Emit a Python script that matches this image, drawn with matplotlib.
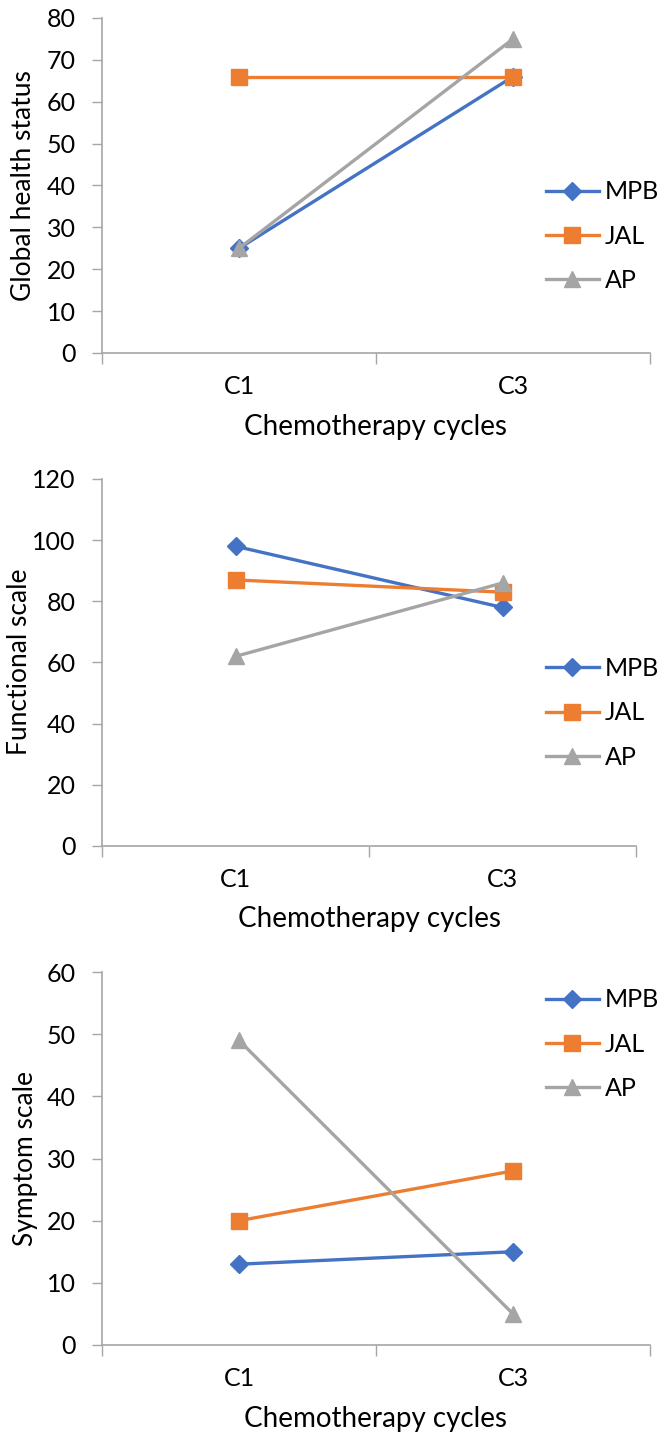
import matplotlib
matplotlib.use("Agg")
import matplotlib.pyplot as plt

plt.rcParams['font.family'] = ['Lato', 'DejaVu Sans']

# data
cycles = ['C1', 'C3']
series = ['MPB', 'JAL', 'AP']

global_mpb = [25, 66]
global_jal = [66, 66]
global_ap = [25, 75]

functional_mpb = [98, 78]
functional_jal = [87, 83]
functional_ap = [62, 86]

symptom_mpb = [13, 15]
symptom_jal = [20, 28]
symptom_ap = [49, 5]

ylabels = ['Global health status', 'Functional scale', 'Symptom scale']
ylims = [(0, 80), (0, 120), (0, 60)]
ysteps = [10, 20, 10]

colors = ['#4472C4', '#ED7D31', '#A5A5A5']
markers = ['D', 's', '^']
msizes = [9.5, 11, 11]
axis_col = '#A6A6A6'

W, H = 657, 1437
fig = plt.figure(figsize=(W / 100, H / 100), dpi=100)

# panel boxes in pixels: left, right, top, bottom
boxes = [(102, 650, 18, 353), (102, 636, 479, 846), (102, 650, 972, 1345)]
legend_y = [236, 713, 1044]
ylabel_pos = [(24, 186), (20, 662), (26, 1158)]

data = [
    [global_mpb, global_jal, global_ap],
    [functional_mpb, functional_jal, functional_ap],
    [symptom_mpb, symptom_jal, symptom_ap],
]

x = list(range(len(cycles)))

for i in range(3):
    l, r, t, b = boxes[i]
    ax = fig.add_axes([l / W, 1 - b / H, (r - l) / W, (b - t) / H])
    for vals, name, c, m, ms in zip(data[i], series, colors, markers, msizes):
        ax.plot(x, vals, color=c, lw=2.4, marker=m, ms=ms, mec=c, mfc=c,
                label=name, clip_on=False)

    ax.set_xlim(-0.5, 1.5)
    ax.set_ylim(*ylims[i])
    ax.set_yticks(range(ylims[i][0], ylims[i][1] + 1, ysteps[i]))

    ax.set_xticks([-0.5, 0.5, 1.5])
    ax.set_xticklabels([])
    ax.set_xticks(x, minor=True)
    ax.set_xticklabels(cycles, minor=True)
    ax.tick_params(axis='x', which='major', length=8, width=1, color=axis_col, direction='out')
    ax.tick_params(axis='x', which='minor', length=0, pad=16, labelsize=18)
    ax.tick_params(axis='y', length=7, width=1, color=axis_col, pad=12, labelsize=18)

    for s in ['top', 'right']:
        ax.spines[s].set_visible(False)
    for s in ['left', 'bottom']:
        ax.spines[s].set_color(axis_col)
        ax.spines[s].set_linewidth(1.2)

    ax.set_xlabel('Chemotherapy cycles', fontsize=20, labelpad=11)
    fig.text(ylabel_pos[i][0] / W, 1 - ylabel_pos[i][1] / H, ylabels[i],
             rotation=90, ha='center', va='center', fontsize=19)

    ax.legend(loc='center left', bbox_to_anchor=(546 / W, 1 - legend_y[i] / H),
              bbox_transform=fig.transFigure, frameon=False, fontsize=18,
              handlelength=2.1, handletextpad=0.25, labelspacing=0.85,
              borderpad=0, borderaxespad=0)

fig.savefig('out.png', dpi=100)
